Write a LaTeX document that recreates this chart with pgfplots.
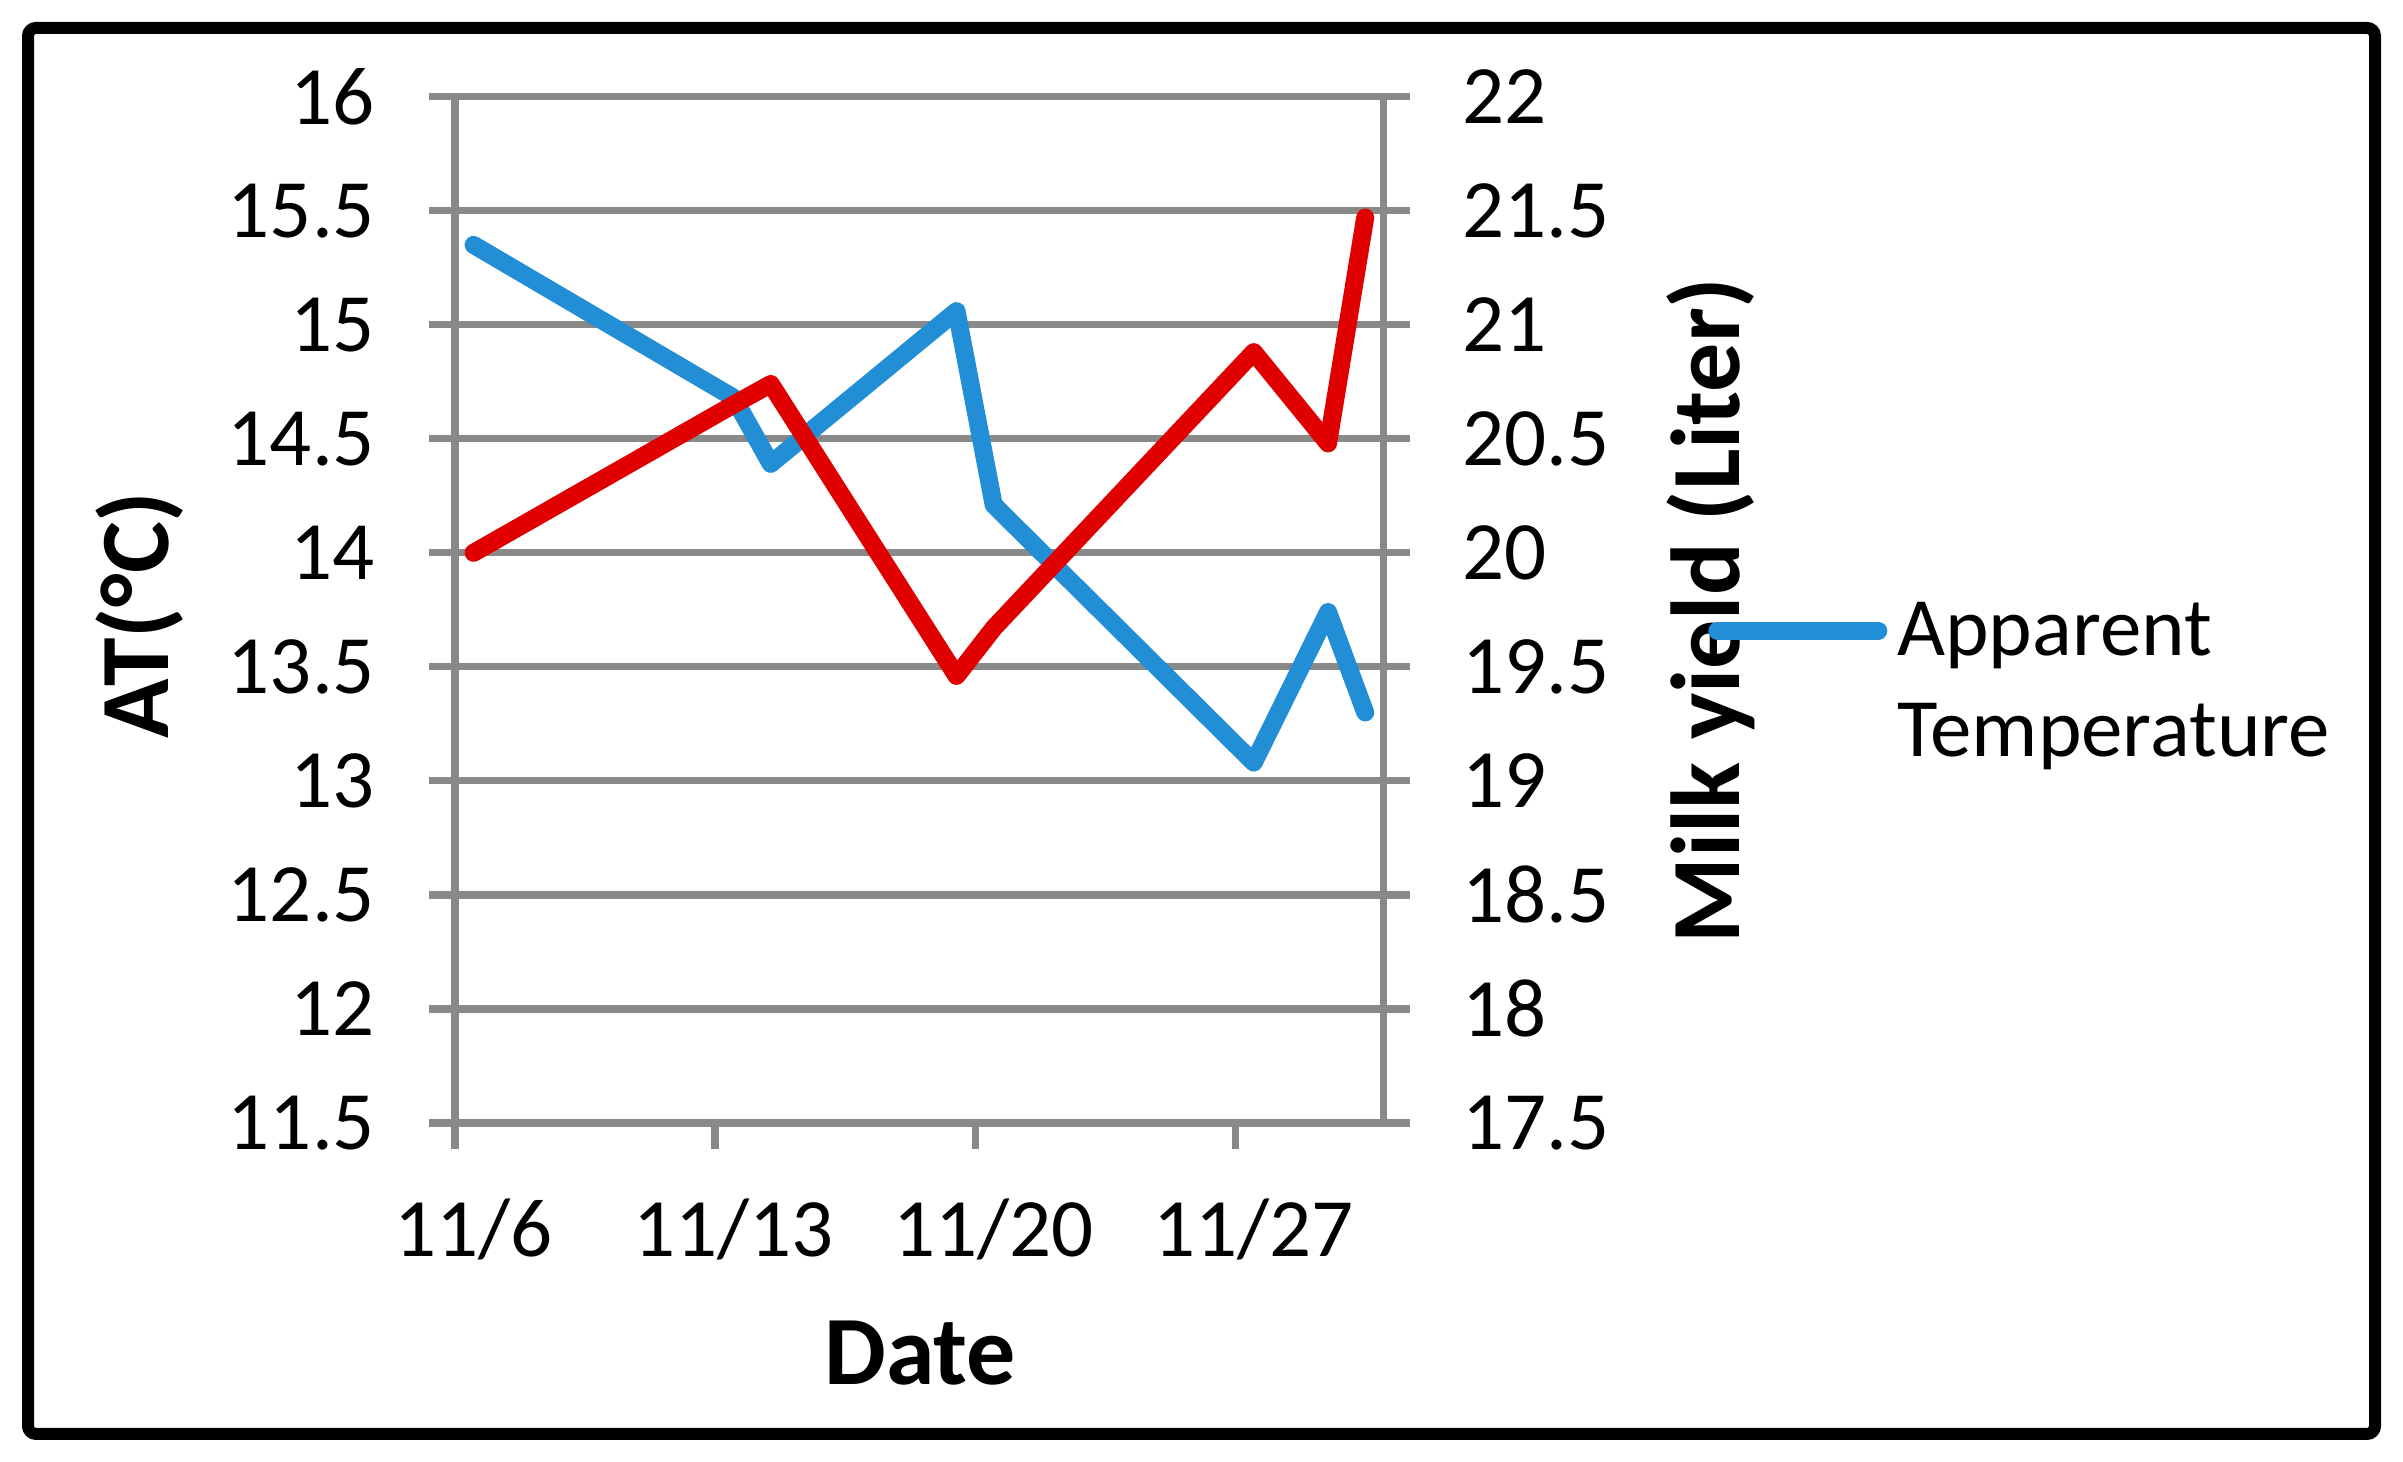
\documentclass[border=0pt]{standalone}
\usepackage{pgfplots}
\pgfplotsset{compat=1.18}
\usepackage{fontspec}
\setmainfont{Carlito}
\definecolor{axgray}{RGB}{137,137,137}
\definecolor{atblue}{RGB}{34,142,214}
\definecolor{milkred}{RGB}{224,0,0}

\begin{document}
\begin{tikzpicture}
\useasboundingbox (0,0) rectangle (600.75pt,365.5pt);
\fill[white] (0,0) rectangle (600.75pt,365.5pt);
\pgfplotsset{
  base/.style={
    scale only axis, width=232.2pt, height=256.575pt,
    at={(113.75pt,84.75pt)}, anchor=south west,
    xmin=-0.5, xmax=24.5,
    axis line style={axgray, line width=1.8pt},
    every tick/.style={axgray, line width=1.8pt},
    major tick length=6.6pt,
    tick label style={font=\fontsize{20.75pt}{25pt}\selectfont, inner sep=0pt},
    /pgf/number format/assume math mode=true,
    label style={font=\fontsize{24.5pt}{29pt}\selectfont\bfseries},
  }
}
\begin{axis}[base,
  ymin=11.5, ymax=16,
  ytick={11.5,12,12.5,13,13.5,14,14.5,15,15.5,16},
  xtick={-0.5,6.5,13.5,20.5}, xticklabels={11/6,11/13,11/20,11/27},
  xtick pos=bottom, ytick pos=left, tick align=outside,
  xticklabel style={anchor=base, xshift=4.64pt, yshift=-26.8pt},
  yticklabel style={anchor=east, xshift=-13.2pt},
  ymajorgrids, grid style={axgray, line width=1.8pt},
  xlabel={Date}, ylabel={AT(°C)},
  xlabel style={at={(axis description cs:0.5006,-0.2553)}, anchor=base},
  ylabel style={at={(axis description cs:-0.3087,0.495)}, anchor=base},
]
\addplot[atblue, line width=4.5pt, line join=round, line cap=round] table {
x y
0 15.35
7 14.68
8 14.39
13 15.06
14 14.21
21 13.08
23 13.74
24 13.30
};
\end{axis}
\begin{axis}[base,
  ymin=17.5, ymax=22,
  ytick={17.5,18,18.5,19,19.5,20,20.5,21,21.5,22},
  axis y line*=right, axis x line=none,
  tick align=outside,
  yticklabel style={anchor=west, xshift=12.95pt},
  ylabel={Milk yield (Liter)},
  ylabel style={at={(axis description cs:1.3835,0.4994)}, anchor=base},
  legend cell align=left,
  legend style={at={(axis description cs:1.3494,0.5191)}, anchor=north west,
    draw=none, fill=none, inner sep=0pt, outer sep=0pt,
    row sep=5.2pt, column sep=2.5pt,
    font=\fontsize{20.75pt}{25pt}\selectfont,
    nodes={inner sep=0pt, text height=16.2pt, text depth=4pt}},
  legend image code/.code={\draw[#1, line cap=round] (0pt,0pt) -- (40.25pt,0pt);},
]
\addplot[milkred, line width=4.5pt, line join=round, line cap=round, forget plot] table {
x y
0 20.00
7 20.65
8 20.74
13 19.46
14 19.67
21 20.88
23 20.48
24 21.47
};
\addlegendimage{atblue, line width=4.5pt}
\addlegendentry{Apparent}
\addlegendimage{empty legend}
\addlegendentry{Temperature}
\end{axis}
\draw[black, line width=3pt, rounded corners=2pt] (7pt,7pt) rectangle (593.75pt,358.5pt);
\end{tikzpicture}
\end{document}
